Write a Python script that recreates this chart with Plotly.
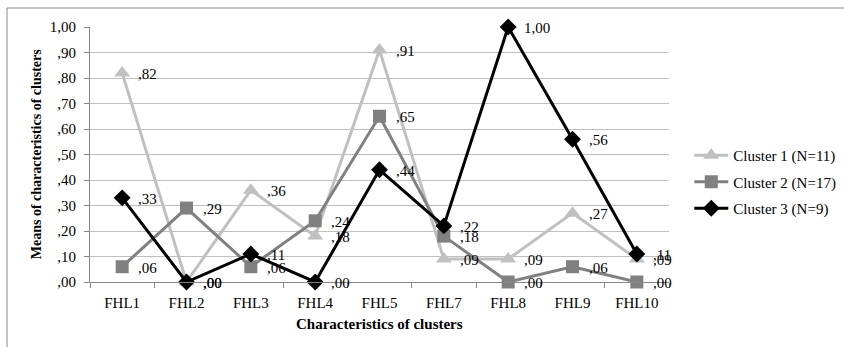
import plotly.graph_objects as go

categories = ["FHL1", "FHL2", "FHL3", "FHL4", "FHL5", "FHL7", "FHL8", "FHL9", "FHL10"]
cluster1 = [0.82, 0.00, 0.36, 0.18, 0.91, 0.09, 0.09, 0.27, 0.09]
cluster2 = [0.06, 0.29, 0.06, 0.24, 0.65, 0.18, 0.00, 0.06, 0.00]
cluster3 = [0.33, 0.00, 0.11, 0.00, 0.44, 0.22, 1.00, 0.56, 0.11]
series_names = ["Cluster 1 (N=11)", "Cluster 2 (N=17)", "Cluster 3 (N=9)"]
y_ticks = [0.0, 0.1, 0.2, 0.3, 0.4, 0.5, 0.6, 0.7, 0.8, 0.9, 1.0]


def fmt(v):
    s = f"{v:.2f}".replace(".", ",")
    if s.startswith("0"):
        s = s[1:]
    return s


FONT = "Liberation Serif"
styles = [
    dict(color="#c0c0c0", symbol="triangle-up", size=14),
    dict(color="#808080", symbol="square", size=13),
    dict(color="#000000", symbol="diamond", size=13),
]

fig = go.Figure()
annotations = []
for i, (name, vals, st) in enumerate(zip(series_names, [cluster1, cluster2, cluster3], styles)):
    fig.add_trace(go.Scatter(
        x=categories, y=vals, name=name,
        mode="lines+markers",
        legendgroup=f"g{i}",
        line=dict(color=st["color"], width=3),
        marker=dict(color=st["color"], symbol=st["symbol"], size=st["size"]),
        cliponaxis=False,
    ))
    for c, v in zip(categories, vals):
        annotations.append(dict(
            x=c, y=v, xref="x", yref="y", text=fmt(v), showarrow=False,
            xanchor="left", yanchor="middle", xshift=14, yshift=-1,
            font=dict(family=FONT, size=15, color="#000000"),
        ))

annotations += [
    dict(text="<b>Characteristics of clusters</b>", xref="paper", yref="paper",
         x=0.5, y=-0.165, xanchor="center", yanchor="middle", showarrow=False,
         font=dict(family=FONT, size=15)),
    dict(text="<b>Means of characteristics of clusters</b>", xref="paper", yref="paper",
         x=-0.092, y=0.5, xanchor="center", yanchor="middle", showarrow=False,
         textangle=-90, font=dict(family=FONT, size=14)),
]

fig.update_layout(
    width=844, height=347,
    margin=dict(l=90, r=175, t=27, b=65, autoexpand=False),
    paper_bgcolor="white", plot_bgcolor="white",
    font=dict(family=FONT, size=15, color="#000000"),
    showlegend=True,
    legend=dict(x=1.035, y=0.392, xanchor="left", yanchor="middle",
                font=dict(family=FONT, size=15), tracegroupgap=4,
                itemwidth=34, bgcolor="rgba(0,0,0,0)"),
    xaxis=dict(
        type="category", categoryorder="array", categoryarray=categories,
        showgrid=False, showline=True, linecolor="#868686", linewidth=1,
        ticks="outside", tickson="boundaries", ticklen=5, tickcolor="#868686",
        range=[-0.5, len(categories) - 0.5],
        tickfont=dict(family=FONT, size=15), ticklabelstandoff=7,
    ),
    yaxis=dict(
        range=[0, 1.0], tickvals=y_ticks, ticktext=[fmt(v) for v in y_ticks],
        showgrid=True, gridcolor="#bfbfbf", gridwidth=1,
        showline=True, linecolor="#868686", linewidth=1,
        ticks="outside", ticklen=5, tickcolor="#868686",
        zeroline=False, tickfont=dict(family=FONT, size=15), ticklabelstandoff=5,
    ),
    annotations=annotations,
    shapes=[
        dict(type="rect", xref="paper", yref="paper",
             x0=-0.1433, x1=1.32, y0=-0.27, y1=1.0745,
             line=dict(color="#878787", width=1), fillcolor="rgba(0,0,0,0)", layer="below"),
    ],
)

fig.write_html("out.html")
